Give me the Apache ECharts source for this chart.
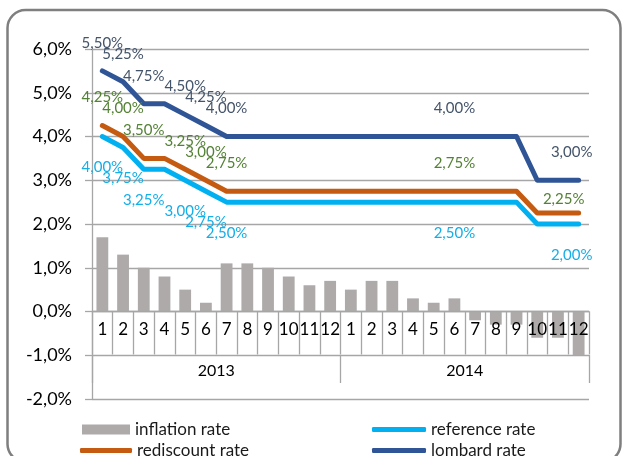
<!DOCTYPE html>
<html>
<head>
<meta charset="utf-8">
<script src="https://cdn.jsdelivr.net/npm/echarts@6/dist/echarts.min.js"></script>
<style>
  html, body { margin: 0; padding: 0; background: #fff; }
  #chart { width: 622px; height: 456px; }
</style>
</head>
<body>
<div id="chart"></div>
<script>
var months = ['1','2','3','4','5','6','7','8','9','10','11','12',
              '1','2','3','4','5','6','7','8','9','10','11','12'];
var years = ['2013', '2014'];

var inflation = [1.7, 1.3, 1.0, 0.8, 0.5, 0.2, 1.1, 1.1, 1.0, 0.8, 0.6, 0.7,
                 0.5, 0.7, 0.7, 0.3, 0.2, 0.3, -0.2, -0.3, -0.3, -0.6, -0.6, -1.0];
var referenceRate = [4.00, 3.75, 3.25, 3.25, 3.00, 2.75, 2.50, 2.50, 2.50, 2.50, 2.50, 2.50,
                     2.50, 2.50, 2.50, 2.50, 2.50, 2.50, 2.50, 2.50, 2.50, 2.00, 2.00, 2.00];
var rediscountRate = [4.25, 4.00, 3.50, 3.50, 3.25, 3.00, 2.75, 2.75, 2.75, 2.75, 2.75, 2.75,
                      2.75, 2.75, 2.75, 2.75, 2.75, 2.75, 2.75, 2.75, 2.75, 2.25, 2.25, 2.25];
var lombardRate = [5.50, 5.25, 4.75, 4.75, 4.50, 4.25, 4.00, 4.00, 4.00, 4.00, 4.00, 4.00,
                   4.00, 4.00, 4.00, 4.00, 4.00, 4.00, 4.00, 4.00, 4.00, 3.00, 3.00, 3.00];

// points that carry a value label
var labeled = [0, 1, 2, 4, 5, 6, 17, 23];

var FONT = 'Lato';

function pct(v, d) {
  return v.toFixed(d).replace('.', ',') + '%';
}

function withLabels(values, endLabel) {
  return values.map(function (v, i) {
    var item = { value: v };
    if (labeled.indexOf(i) >= 0) {
      item.label = { show: true };
      if (i === values.length - 1) Object.assign(item.label, endLabel);
    }
    return item;
  });
}

function lineSeries(name, values, color, labelColor, pos, dist, endLabel) {
  return {
    name: name,
    type: 'line',
    data: withLabels(values, endLabel),
    symbol: 'circle',
    symbolSize: 1,
    showAllSymbol: true,
    itemStyle: { color: color },
    lineStyle: { color: color, width: 5, cap: 'round', join: 'round' },
    label: {
      show: false,
      position: pos,
      distance: dist,
      color: labelColor,
      fontFamily: FONT,
      fontSize: 15,
      formatter: function (p) { return pct(p.value, 2); }
    },
    emphasis: { disabled: true },
    z: 4
  };
}

var chart = echarts.init(document.getElementById('chart'));

var legendText = { fontFamily: FONT, fontSize: 17, color: '#1a1a1a' };
var gridGray = '#a6a6a6';

chart.setOption({
  animation: false,
  graphic: [{
    type: 'rect',
    shape: { x: 7.5, y: 10, width: 613, height: 452, r: 18 },
    style: { fill: 'none', stroke: '#7f7f7f', lineWidth: 2.5 },
    silent: true
  }],
  grid: { left: 92, right: 33, top: 49, bottom: 57 },
  legend: [
    { data: ['inflation rate'], left: 82, top: 421, padding: 0, icon: 'rect',
      itemWidth: 48, itemHeight: 10, textStyle: legendText, selectedMode: false },
    { data: ['rediscount rate'], left: 80, top: 442, padding: 0, icon: 'roundRect',
      itemWidth: 52, itemHeight: 5, textStyle: legendText, selectedMode: false },
    { data: ['reference rate'], left: 372, top: 421, padding: 0, icon: 'roundRect',
      itemWidth: 54, itemHeight: 5, textStyle: legendText, selectedMode: false },
    { data: ['lombard rate'], left: 372, top: 442, padding: 0, icon: 'roundRect',
      itemWidth: 54, itemHeight: 5, textStyle: legendText, selectedMode: false }
  ],
  xAxis: [
    {
      // months sit on the zero line (6 of 8 units down the plot)
      type: 'category',
      data: months,
      position: 'bottom',
      offset: -87.5,
      z: 5,
      axisLine: { onZero: false, lineStyle: { color: gridGray, width: 1.3 } },
      axisTick: { show: true, interval: 0, length: 43, lineStyle: { color: gridGray, width: 1.3 } },
      axisLabel: { interval: 0, margin: 10, color: '#000', fontFamily: FONT, fontSize: 17 },
      splitLine: { show: false }
    },
    {
      type: 'category',
      data: years,
      position: 'bottom',
      offset: -44,
      z: 5,
      axisLine: { show: false, onZero: false },
      axisTick: { show: true, interval: 0, length: 28, lineStyle: { color: gridGray, width: 1.3 } },
      axisLabel: { interval: 0, margin: 8, color: '#000', fontFamily: FONT, fontSize: 16 },
      splitLine: { show: false }
    }
  ],
  yAxis: {
    type: 'value',
    min: -2,
    max: 6,
    interval: 1,
    axisLine: { show: true, lineStyle: { color: gridGray, width: 1.3 } },
    axisTick: { show: true, length: 7, lineStyle: { color: gridGray, width: 1.3 } },
    axisLabel: {
      margin: 20, color: '#000', fontFamily: FONT, fontSize: 18,
      formatter: function (v) { return pct(v, 1); }
    },
    splitLine: { lineStyle: { color: gridGray, width: 1.3 } }
  },
  series: [
    {
      name: 'inflation rate',
      type: 'bar',
      data: inflation,
      barWidth: '57%',
      itemStyle: { color: '#aeaaaa' },
      emphasis: { disabled: true },
      z: 2
    },
    lineSeries('reference rate', referenceRate, '#00b0f0', '#14aee8', 'bottom', 23, { offset: [-7, 0] }),
    lineSeries('rediscount rate', rediscountRate, '#c55a11', '#548235', 'top', 20, { offset: [-15, 0], distance: 6 }),
    lineSeries('lombard rate', lombardRate, '#2f5597', '#44546a', 'top', 20, { offset: [-7, 0] })
  ]
});
</script>
</body>
</html>
